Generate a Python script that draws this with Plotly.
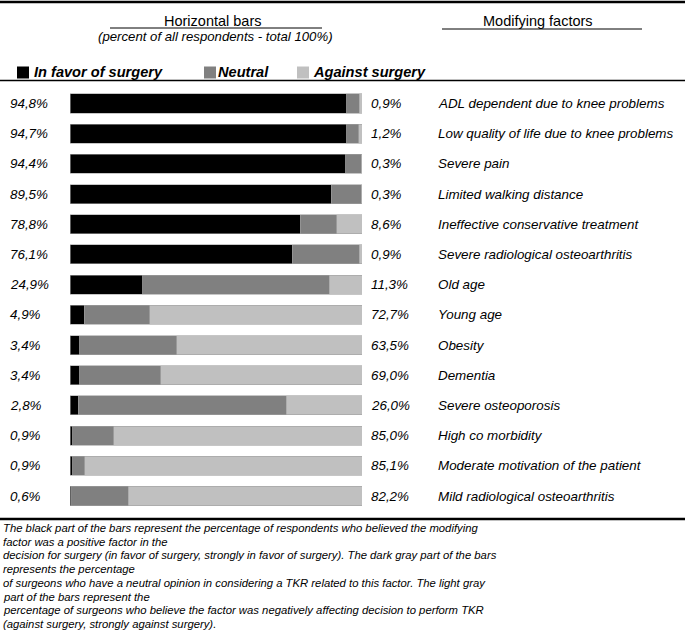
import plotly.graph_objects as go

W, H = 685, 632

factors = [
    "ADL dependent due to knee problems",
    "Low quality of life due to knee problems",
    "Severe pain",
    "Limited walking distance",
    "Ineffective conservative treatment",
    "Severe radiological osteoarthritis",
    "Old age",
    "Young age",
    "Obesity",
    "Dementia",
    "Severe osteoporosis",
    "High co morbidity",
    "Moderate motivation of the patient",
    "Mild radiological osteoarthritis",
]
in_favor = [94.8, 94.7, 94.4, 89.5, 78.8, 76.1, 24.9, 4.9, 3.4, 3.4, 2.8, 0.9, 0.9, 0.6]
neutral = [4.3, 4.1, 5.3, 10.2, 12.6, 23.0, 63.8, 22.4, 33.1, 27.6, 71.2, 14.1, 4.2, 19.3]
against_label = [0.9, 1.2, 0.3, 0.3, 8.6, 0.9, 11.3, 72.7, 63.5, 69.0, 26.0, 85.0, 85.1, 82.2]
against = [round(100 - f - n, 1) for f, n in zip(in_favor, neutral)]

series_names = ["In favor of surgery", "Neutral", "Against surgery"]
colors = ["#000000", "#808080", "#c0c0c0"]

FONT = "Liberation Sans, Arial, sans-serif"

def fmt(v):
    return f"{v:.1f}%".replace(".", ",")

def px(x):
    return x / W

def py(y):
    return 1 - y / H

fig = go.Figure()
for name, vals, col in zip(series_names, [in_favor, neutral, against], colors):
    fig.add_trace(go.Bar(
        y=factors, x=vals, orientation="h", name=name,
        marker=dict(color=col, line=dict(color="#a0a0a0", width=0.6)),
        showlegend=False, hoverinfo="x+y",
    ))

row_top, row_bot = 88.4, 511.1
fig.update_layout(
    width=W, height=H,
    margin=dict(l=0, r=0, t=0, b=0),
    paper_bgcolor="white", plot_bgcolor="white",
    barmode="stack", bargap=0.37,
    xaxis=dict(domain=[px(70), px(362)], range=[0, 100], visible=False, fixedrange=True),
    yaxis=dict(domain=[py(row_bot), py(row_top)], autorange="reversed", visible=False,
               type="category", categoryorder="array", categoryarray=factors),
    font=dict(family=FONT, color="#000"),
)

LBL = 13.4
ann = []
for f, fav, ag in zip(factors, in_favor, against_label):
    ann.append(dict(xref="paper", yref="y", x=px(8), y=f, text=fmt(fav), showarrow=False,
                    xanchor="left", yanchor="middle", font=dict(size=LBL, family=FONT, style="italic")))
    ann.append(dict(xref="paper", yref="y", x=px(369), y=f, text=fmt(ag), showarrow=False,
                    xanchor="left", yanchor="middle", font=dict(size=LBL, family=FONT, style="italic")))
    ann.append(dict(xref="paper", yref="y", x=px(436), y=f, text=f, showarrow=False,
                    xanchor="left", yanchor="middle", font=dict(size=LBL, family=FONT, style="italic")))

# headers
ann.append(dict(xref="paper", yref="paper", x=px(213), y=py(21), text="Horizontal bars", showarrow=False,
                xanchor="center", yanchor="middle", font=dict(size=14.5, family=FONT)))
ann.append(dict(xref="paper", yref="paper", x=px(215), y=py(37), text="(percent of all respondents - total 100%)",
                showarrow=False, xanchor="center", yanchor="middle", font=dict(size=13.2, family=FONT, style="italic")))
ann.append(dict(xref="paper", yref="paper", x=px(538), y=py(21), text="Modifying factors", showarrow=False,
                xanchor="center", yanchor="middle", font=dict(size=14.5, family=FONT)))

# legend
leg_sq_x = [17, 204, 297]
leg_tx_x = [32, 216, 311]
shapes = []
for name, col, sx, tx in zip(series_names, colors, leg_sq_x, leg_tx_x):
    shapes.append(dict(type="rect", xref="paper", yref="paper", x0=px(sx), x1=px(sx + 12),
                       y0=py(78.5), y1=py(66.5), fillcolor=col, line=dict(width=0)))
    ann.append(dict(xref="paper", yref="paper", x=px(tx), y=py(72), text=f"<b><i>{name}</i></b>",
                    showarrow=False, xanchor="left", yanchor="middle", font=dict(size=14.6, family=FONT)))

# footnote
foot = [
    "The black part of the bars represent the percentage of respondents who believed the modifying",
    "factor was a positive factor in the",
    "decision for surgery (in favor of surgery, strongly in favor of surgery). The dark gray part of the bars",
    "represents the percentage",
    "of surgeons who have a neutral opinion in considering a TKR related to this factor. The light gray",
    "part of the bars represent the",
    "percentage of surgeons who believe the factor was negatively affecting decision to perform TKR",
    "(against surgery, strongly against surgery).",
]
for i, line in enumerate(foot):
    ann.append(dict(xref="paper", yref="paper", x=px(1), y=py(528 + i * 13.7), text=line, showarrow=False,
                    xanchor="left", yanchor="middle", font=dict(size=11.3, family=FONT, style="italic")))

# rules
shapes += [
    dict(type="line", xref="paper", yref="paper", x0=0, x1=1, y0=py(2), y1=py(2), line=dict(color="#000", width=2.5)),
    dict(type="line", xref="paper", yref="paper", x0=px(110), x1=px(322), y0=py(28), y1=py(28), line=dict(color="#000", width=1)),
    dict(type="line", xref="paper", yref="paper", x0=px(442), x1=px(642), y0=py(29), y1=py(29), line=dict(color="#000", width=1)),
    dict(type="line", xref="paper", yref="paper", x0=0, x1=1, y0=py(80.5), y1=py(80.5), line=dict(color="#000", width=1.5)),
    dict(type="line", xref="paper", yref="paper", x0=0, x1=1, y0=py(519), y1=py(519), line=dict(color="#000", width=2.5)),
]

fig.update_layout(annotations=ann, shapes=shapes)
fig.write_html("out.html", config={"displayModeBar": False},
               post_script="document.body.style.margin='0px';document.body.style.overflow='hidden';")
